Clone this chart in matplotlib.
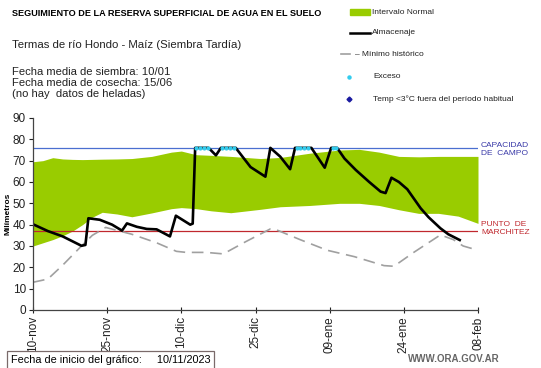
import matplotlib.pyplot as plt
import numpy as np

plt.rcParams['font.family'] = ['Liberation Sans', 'DejaVu Sans']

# day offsets from 10-nov-2023
band_days = [0, 2, 4, 6, 8, 10, 12, 14, 17, 20, 24, 28, 30, 33, 36, 40, 46, 50, 56, 62, 66, 70, 74, 78, 82, 86, 90]
band_upper = [69.5, 70.0, 71.4, 70.8, 70.6, 70.5, 70.6, 70.7, 70.8, 71.0, 72.0, 74.0, 74.5, 72.8, 72.5, 72.0, 71.0, 71.5, 73.5, 75.0, 75.3, 74.0, 72.0, 71.8, 72.0, 72.0, 72.0]
band_lower = [30.0, 31.5, 33.0, 34.8, 37.0, 40.0, 43.5, 45.8, 45.0, 43.7, 45.5, 47.5, 48.0, 47.5, 46.5, 45.6, 47.2, 48.4, 49.0, 50.0, 50.0, 49.0, 47.0, 45.3, 45.3, 44.0, 40.6]

alm_days = [0, 3, 6, 9.8, 10.6, 11.2, 13.5, 16, 18, 19, 21, 23, 25, 27.7, 28.9, 31.8, 32.3, 32.8, 35.5, 37, 38, 41, 44, 47, 48,
            50, 52, 53, 56.3, 59, 60.3, 61.5, 63, 65.3, 68, 70.3, 71.3, 72.5, 74, 75.7, 78.4, 80, 82.4, 84, 86.3]
alm_vals = [40.2, 37.0, 34.5, 30.1, 30.5, 43.0, 42.3, 40.0, 37.2, 40.6, 39.0, 38.0, 37.8, 34.5, 44.2, 40.0, 40.5, 76.0, 76.0, 72.5, 76.0, 76.0, 67.0, 62.5, 76.0,
            71.9, 66.0, 76.0, 76.0, 66.7, 76.0, 76.0, 71.0, 65.6, 60.0, 55.5, 54.8, 62.0, 60.0, 56.6, 47.7, 43.5, 38.3, 35.5, 32.8]

exceso_days = [33.0, 33.8, 34.6, 35.4, 38.2, 39.0, 39.8, 40.6, 53.3, 54.1, 54.9, 55.7, 60.6, 61.3]
exceso_vals = [76.0] * len(exceso_days)

min_days = [0, 3, 6, 9.8, 12, 14.7, 20, 25, 29, 31, 35, 38.5, 43, 48, 49, 54, 59.5, 65, 71, 73, 77, 82.4, 85, 87, 90]
min_vals = [13.0, 14.5, 21.0, 30.0, 35.0, 38.7, 35.5, 31.5, 27.5, 27.0, 27.0, 26.3, 32.0, 38.0, 37.8, 33.0, 28.0, 25.0, 20.8, 20.5, 27.0, 35.2, 33.0, 30.0, 28.0]

capacidad = 75.8
marchitez = 37.2

tick_days = [0, 15, 30, 45, 60, 75, 90]
tick_labels = ['10-nov', '25-nov', '10-dic', '25-dic', '09-ene', '24-ene', '08-feb']

fig = plt.figure(figsize=(5.41, 3.68), dpi=100)
ax = fig.add_axes([33 / 541, 1 - 310 / 368, 445 / 541, 192 / 368])

ax.fill_between(band_days, band_lower, band_upper, color='#99cc00', linewidth=0)
ax.axhline(capacidad, color='#4a6fd0', linewidth=0.9)
ax.axhline(marchitez, color='#c0282e', linewidth=0.9)
ax.plot(min_days, min_vals, color='#a0a0a0', linewidth=1.2, dashes=(7, 4))
ax.plot(alm_days, alm_vals, color='black', linewidth=1.9)
ax.plot(exceso_days, exceso_vals, linestyle='none', marker='o', markersize=2, color='#33ccee')

ax.set_xlim(0, 90)
ax.set_ylim(0, 90)
ax.set_yticks(range(0, 91, 10))
ax.set_xticks(tick_days)
ax.set_xticklabels(tick_labels, rotation=90)
ax.tick_params(labelsize=8.5, length=3, width=0.8, colors='#222222', pad=2)
ax.tick_params(axis='x', direction='inout', length=5)
for side in ['top', 'right']:
    ax.spines[side].set_visible(False)
for side in ['left', 'bottom']:
    ax.spines[side].set_color('#444444')
    ax.spines[side].set_linewidth(0.9)
ax.set_ylabel('Milímetros', fontsize=6, fontweight='bold', labelpad=1)

ax.text(1.007, capacidad - 0.5, 'CAPACIDAD\nDE  CAMPO', transform=ax.get_yaxis_transform(),
        color='#3a3aa8', fontsize=6, va='center', ha='left', linespacing=1.3)
ax.text(1.007, marchitez + 1.0, 'PUNTO  DE\nMARCHITEZ', transform=ax.get_yaxis_transform(),
        color='#c0282e', fontsize=6, va='center', ha='left', linespacing=1.3)

# header texts
fig.text(12 / 541, 1 - 14 / 368, 'SEGUIMIENTO DE LA RESERVA SUPERFICIAL DE AGUA EN EL SUELO',
         fontsize=6.6, fontweight='bold', va='center')
fig.text(12 / 541, 1 - 45 / 368, 'Termas de río Hondo - Maíz (Siembra Tardía)', fontsize=8.2, va='center', color='#222222')
fig.text(12 / 541, 1 - 83 / 368, 'Fecha media de siembra: 10/01\nFecha media de cosecha: 15/06\n(no hay  datos de heladas)',
         fontsize=8.1, va='center', linespacing=1.15, color='#222222')

# legend drawn by hand
ly = [1 - 12 / 368, 1 - 33 / 368, 1 - 54 / 368, 1 - 77 / 368, 1 - 99 / 368]
fig.add_artist(plt.Rectangle((350 / 541, ly[0] - 3 / 368), 20 / 541, 6 / 368, color='#99cc00', transform=fig.transFigure))
fig.add_artist(plt.Line2D([350 / 541, 370 / 541], [ly[1], ly[1]], color='black', linewidth=1.8, transform=fig.transFigure))
fig.add_artist(plt.Line2D([341 / 541, 350 / 541], [ly[2], ly[2]], color='#a0a0a0', linewidth=1.2, transform=fig.transFigure))
fig.add_artist(plt.Line2D([348.5 / 541], [ly[3]], marker='o', markersize=2.2, color='#33ccee', transform=fig.transFigure))
fig.add_artist(plt.Line2D([348.5 / 541], [ly[4]], marker='D', markersize=2.5, color='#1a1aa0', transform=fig.transFigure))
leg_texts = ['Intervalo Normal', 'Almacenaje', '– Mínimo histórico', 'Exceso', 'Temp <3°C fuera del período habitual']
leg_x = [372, 372, 355, 373, 373]
for t, y, x in zip(leg_texts, ly, leg_x):
    fig.text(x / 541, y, t, fontsize=6, va='center', color='#222222')

# footer
fig.text(11 / 541, 1 - 360 / 368, 'Fecha de inicio del gráfico:     10/11/2023', fontsize=7.8, va='center',
         bbox=dict(boxstyle='square,pad=0.35', facecolor='white', edgecolor='#7a6a6a', linewidth=0.9))
fig.text(500 / 541, 1 - 359 / 368, 'WWW.ORA.GOV.AR', fontsize=7, fontweight='bold', color='#666666', ha='right', va='center')

fig.savefig('out.png', dpi=100)
